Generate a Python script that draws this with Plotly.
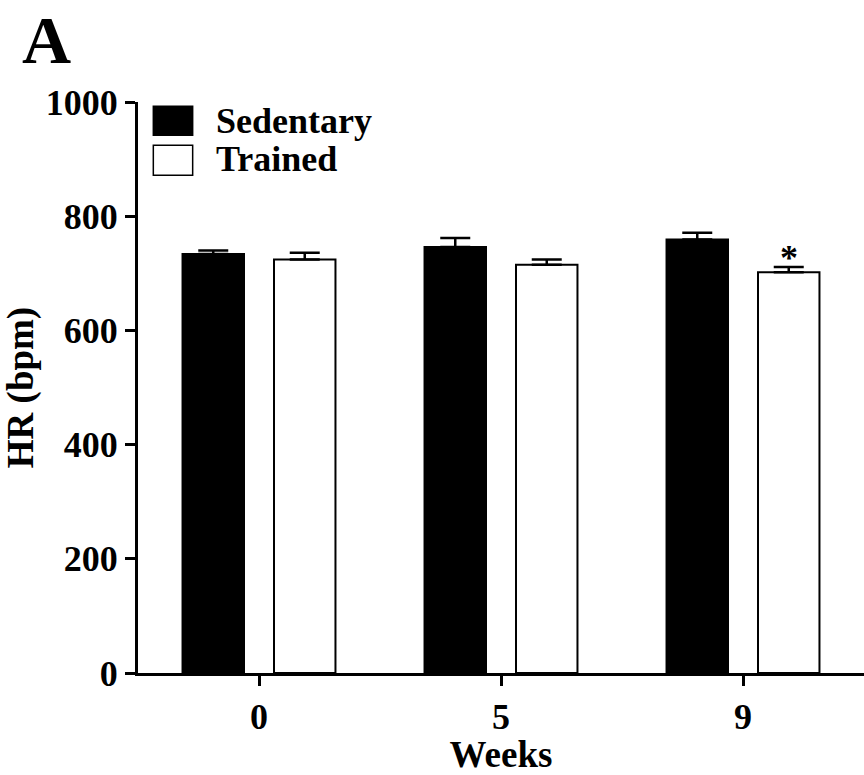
import plotly.graph_objects as go

# Heart rate (bpm) per training week, mean and SEM
weeks = ["0", "5", "9"]
sedentary_hr = [734, 746, 759]
sedentary_sem = [6, 16, 12]
trained_hr = [724, 715, 702]
trained_sem = [12, 9, 9]
y_ticks = [0, 200, 400, 600, 800, 1000]

FONT = "Liberation Serif"
BAR_W = 0.254
GAP = 0.062

fig = go.Figure()
fig.add_trace(go.Bar(
    x=weeks, y=sedentary_hr, name="Sedentary",
    width=BAR_W, offset=-GAP - BAR_W,
    marker=dict(color="black", line=dict(color="black", width=2)),
    error_y=dict(type="data", symmetric=False, array=sedentary_sem,
                 arrayminus=[0] * len(weeks), color="black",
                 thickness=2.5, width=15),
    showlegend=False,
))
fig.add_trace(go.Bar(
    x=weeks, y=trained_hr, name="Trained",
    width=BAR_W, offset=GAP,
    marker=dict(color="white", line=dict(color="black", width=2)),
    error_y=dict(type="data", symmetric=False, array=trained_sem,
                 arrayminus=[0] * len(weeks), color="black",
                 thickness=2.5, width=15),
    showlegend=False,
))

# significance mark over trained, week 9
fig.add_annotation(
    x=2 + GAP + BAR_W / 2, y=trained_hr[2] + trained_sem[2],
    xref="x", yref="y", text="*", showarrow=False,
    yanchor="bottom", yshift=-13,
    font=dict(family=FONT, size=36, color="black", weight="bold"),
)

# legend swatches and labels
fig.add_shape(type="rect", xref="paper", yref="paper",
              x0=0.0211, x1=0.0753, y0=0.9417, y1=0.9925,
              fillcolor="black", line=dict(color="black", width=1.5))
fig.add_shape(type="rect", xref="paper", yref="paper",
              x0=0.0211, x1=0.0753, y0=0.8718, y1=0.9243,
              fillcolor="white", line=dict(color="black", width=1.5))
fig.add_annotation(x=0.104, y=0.9663, xref="paper", yref="paper",
                   text="Sedentary", showarrow=False,
                   xanchor="left", yanchor="middle",
                   font=dict(family=FONT, size=36, color="black", weight="bold"))
fig.add_annotation(x=0.104, y=0.8998, xref="paper", yref="paper",
                   text="Trained", showarrow=False,
                   xanchor="left", yanchor="middle",
                   font=dict(family=FONT, size=36, color="black", weight="bold"))

# panel letter
fig.add_annotation(x=-0.162, y=1.178, xref="paper", yref="paper",
                   text="A", showarrow=False,
                   xanchor="left", yanchor="top",
                   font=dict(family=FONT, size=68, color="black", weight="bold"))

fig.update_layout(
    width=864, height=775,
    margin=dict(l=138, r=0, t=102, b=102),
    plot_bgcolor="white", paper_bgcolor="white",
    barmode="group",
    font=dict(family=FONT, size=36, color="black", weight="bold"),
)
fig.update_xaxes(
    type="category", range=[-0.5, 2.5],
    showline=True, linecolor="black", linewidth=3,
    ticks="outside", ticklen=10, tickwidth=3, tickcolor="black",
    showgrid=False, zeroline=False,
    tickfont=dict(family=FONT, size=36, color="black", weight="bold"),
    title=dict(text="Weeks", standoff=10,
               font=dict(family=FONT, size=37, color="black", weight="bold")),
)
fig.update_yaxes(
    range=[0, 1000], tickvals=y_ticks, automargin=True,
    showline=True, linecolor="black", linewidth=3,
    ticks="outside", ticklen=10, tickwidth=3, tickcolor="black",
    showgrid=False, zeroline=False,
    tickfont=dict(family=FONT, size=36, color="black", weight="bold"),
    title=dict(text="HR (bpm)", standoff=6,
               font=dict(family=FONT, size=37, color="black", weight="bold")),
)

fig.write_html("out.html")
